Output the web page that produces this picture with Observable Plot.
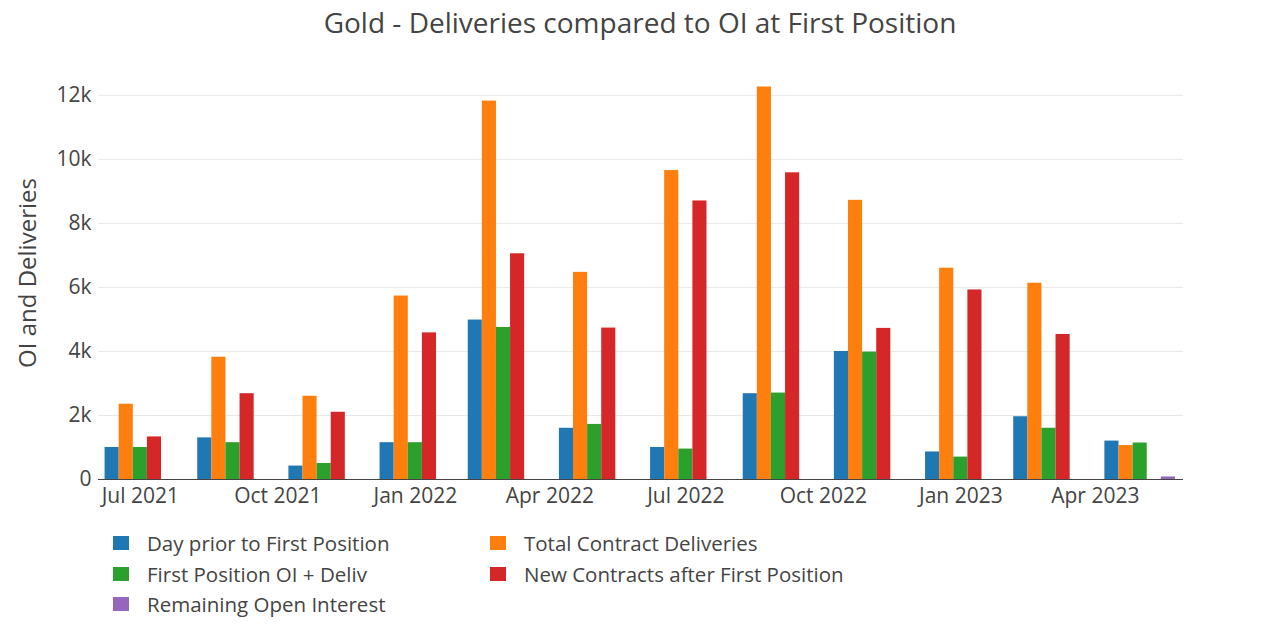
<!DOCTYPE html>
<html>
<head>
<meta charset="utf-8">
<script src="https://cdn.jsdelivr.net/npm/d3@7"></script>
<script src="https://cdn.jsdelivr.net/npm/@observablehq/plot@0.6"></script>
<style>
  html, body { margin: 0; padding: 0; background: #fff; }
  body { width: 1280px; height: 641px; overflow: hidden; font-family: "Open Sans", sans-serif; color: #444; }
  #title { height: 44px; line-height: 44px; text-align: center; font-size: 28px; color: #444; }
  #chart { height: 475px; }
  #legend { position: relative; height: 122px; font-size: 20.5px; color: #444; }
  .item { position: absolute; display: flex; align-items: center; height: 30px; }
  .sw { width: 16px; height: 14px; margin-right: 18px; }
</style>
</head>
<body>
<div id="title">Gold - Deliveries compared to OI at First Position</div>
<div id="chart"></div>
<div id="legend"></div>
<script>
const dates = ["2021-07-01","2021-09-01","2021-11-01","2022-01-01","2022-03-01","2022-05-01",
               "2022-07-01","2022-09-01","2022-11-01","2023-01-01","2023-03-01","2023-05-01"];
const seriesNames = ["Day prior to First Position","Total Contract Deliveries","First Position OI + Deliv",
                     "New Contracts after First Position","Remaining Open Interest"];
const seriesColors = ["#1f77b4","#ff7f0e","#2ca02c","#d62728","#9467bd"];
const dayPrior     = [1000, 1300,  420, 1150,  4980, 1600, 1000,  2680, 4000,  860, 1960, 1200];
const totalDeliv   = [2350, 3820, 2600, 5730, 11820, 6470, 9650, 12260, 8720, 6600, 6130, 1060];
const firstPosOI   = [1000, 1150,  500, 1150,  4750, 1720,  950,  2700, 3980,  700, 1600, 1140];
const newContracts = [1330, 2680, 2100, 4580,  7050, 4730, 8700,  9580, 4720, 5920, 4530,    0];
const remainingOI  = [   0,    0,    0,    0,     0,    0,    0,     0,    0,    0,    0,   80];
const yTicks = [0, 2000, 4000, 6000, 8000, 10000, 12000];
const xTicks = ["2021-07-01","2021-10-01","2022-01-01","2022-04-01","2022-07-01","2022-10-01","2023-01-01","2023-04-01"];

const allSeries = [dayPrior, totalDeliv, firstPosOI, newContracts, remainingOI];
const parsed = dates.map(d => new Date(d));
const DAY = 864e5;
let minGap = Infinity;
for (let i = 1; i < parsed.length; i++) minGap = Math.min(minGap, parsed[i] - parsed[i - 1]);
const groupW = 0.8 * minGap;
const slotW = groupW / seriesNames.length;

const data = [];
parsed.forEach((d, i) => {
  allSeries.forEach((s, k) => {
    if (s[i] > 0) data.push({date: d, k, series: seriesNames[k], value: s[i]});
  });
});

const xDomain = [new Date(+parsed[0] - 28 * DAY), new Date(+parsed[parsed.length - 1] + 29 * DAY)];

const plot = Plot.plot({
  width: 1280,
  height: 475,
  marginLeft: 98,
  marginRight: 97,
  marginTop: 22,
  marginBottom: 40,
  style: {fontFamily: "Open Sans, sans-serif", fontSize: "21px", color: "#444", background: "#fff"},
  x: {type: "utc", domain: xDomain},
  y: {domain: [0, 12900]},
  color: {domain: seriesNames, range: seriesColors},
  marks: [
    Plot.gridY(yTicks, {stroke: "#e8e8e8", strokeOpacity: 1, strokeWidth: 1}),
    Plot.rectY(data, {
      x1: d => new Date(+d.date - groupW / 2 + d.k * slotW),
      x2: d => new Date(+d.date - groupW / 2 + (d.k + 1) * slotW),
      y: "value",
      fill: "series"
    }),
    Plot.ruleY([0], {stroke: "#444", strokeWidth: 1}),
    Plot.axisY(yTicks, {
      tickSize: 0, tickPadding: 7,
      tickFormat: d => d === 0 ? "0" : (d / 1000) + "k",
      label: null, fontSize: 21, fill: "#444"
    }),
    Plot.text(["OI and Deliveries"], {
      frameAnchor: "left", textAnchor: "middle", dx: -70, rotate: -90, fontSize: 24, fill: "#444"
    }),
    Plot.axisX(xTicks.map(d => new Date(d)), {
      tickSize: 0, tickPadding: 9,
      tickFormat: d3.utcFormat("%b %Y"),
      label: null, fontSize: 21, fill: "#444"
    })
  ]
});
document.getElementById("chart").appendChild(plot);

const legend = document.getElementById("legend");
const positions = [[113, 9], [490, 9], [113, 40], [490, 40], [113, 70]];
seriesNames.forEach((name, k) => {
  const el = document.createElement("div");
  el.className = "item";
  el.style.left = positions[k][0] + "px";
  el.style.top = positions[k][1] + "px";
  const sw = document.createElement("span");
  sw.className = "sw";
  sw.style.background = seriesColors[k];
  const tx = document.createElement("span");
  tx.textContent = name;
  el.appendChild(sw);
  el.appendChild(tx);
  legend.appendChild(el);
});
</script>
</body>
</html>
